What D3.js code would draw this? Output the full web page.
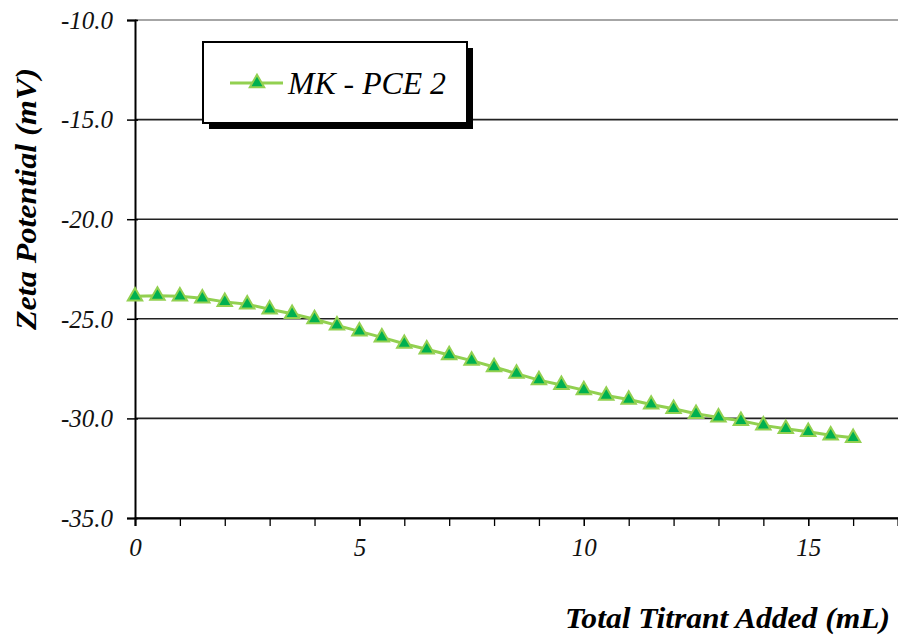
<!DOCTYPE html>
<html>
<head>
<meta charset="utf-8">
<script src="https://cdn.jsdelivr.net/npm/d3@7"></script>
<style>
  body { margin: 0; background: #fff; }
  svg { display: block; }
</style>
</head>
<body>
<div id="chart"></div>
<script>
// data
var titrant = [0, 0.5, 1, 1.5, 2, 2.5, 3, 3.5, 4, 4.5, 5, 5.5, 6, 6.5, 7, 7.5, 8,
  8.5, 9, 9.5, 10, 10.5, 11, 11.5, 12, 12.5, 13, 13.5, 14, 14.5, 15, 15.5, 16];
var zeta = [-23.87, -23.84, -23.87, -23.97, -24.15, -24.27, -24.52, -24.75, -25.02,
  -25.33, -25.63, -25.93, -26.25, -26.53, -26.82, -27.1, -27.42, -27.75, -28.08,
  -28.32, -28.58, -28.85, -29.05, -29.3, -29.52, -29.77, -29.95, -30.12, -30.35,
  -30.52, -30.67, -30.85, -30.97];
var yTicks = [-10, -15, -20, -25, -30, -35];
var xTicks = [0, 5, 10, 15];
var seriesName = "MK - PCE 2";

var fontName = "'Times New Roman'";

//svg frame
var svgWidth = 898;
var svgHeight = 639;
var margin = { top: 20, right: 0, bottom: 121, left: 135 };
var width = svgWidth - margin.left - margin.right;
var height = svgHeight - margin.top - margin.bottom;

var svg = d3.select("#chart")
  .append("svg")
  .attr("width", svgWidth)
  .attr("height", svgHeight);

var chartGroup = svg.append("g")
  .attr("transform", `translate(${margin.left}, ${margin.top})`);

var xScale = d3.scaleLinear().domain([0, 17]).range([0, width]);
var yScale = d3.scaleLinear().domain([-35, -10]).range([height, 0]);

// gridlines
chartGroup.selectAll(".grid")
  .data(yTicks)
  .enter()
  .append("line")
  .attr("x1", 0)
  .attr("x2", width)
  .attr("y1", d => yScale(d))
  .attr("y2", d => yScale(d))
  .attr("stroke", d => d === -10 ? "#888" : "#222")
  .attr("stroke-width", 1.6);

// y axis (ticks cross the axis line a little)
var leftAxis = d3.axisLeft(yScale)
  .tickValues(yTicks)
  .tickSize(8)
  .tickPadding(14)
  .tickFormat(d => d.toFixed(1));
var yAxisG = chartGroup.append("g").call(leftAxis)
  .attr("font-family", null);
yAxisG.select(".domain").attr("stroke", "#000").attr("stroke-width", 2);
yAxisG.selectAll(".tick line")
  .attr("x2", -8).attr("x1", 3)
  .attr("stroke", "#000").attr("stroke-width", 1.5);
yAxisG.selectAll(".tick text")
  .style("font-family", fontName)
  .style("font-size", "25px")
  .style("font-style", "italic")
  .attr("fill", "#111")
  .attr("dy", "0.33em");

// x axis, minor ticks every 1 mL
var bottomMinor = d3.axisBottom(xScale)
  .ticks(17)
  .tickSize(8)
  .tickFormat("");
var xMinor = chartGroup.append("g")
  .attr("transform", `translate(0, ${height})`)
  .call(bottomMinor);
xMinor.select(".domain").attr("stroke", "#000").attr("stroke-width", 2);
xMinor.selectAll(".tick line").attr("stroke", "#000").attr("stroke-width", 1.3);

var bottomAxis = d3.axisBottom(xScale)
  .tickValues(xTicks)
  .tickSize(8)
  .tickPadding(12);
var xAxisG = chartGroup.append("g")
  .attr("transform", `translate(0, ${height})`)
  .call(bottomAxis)
  .attr("font-family", null);
xAxisG.select(".domain").remove();
xAxisG.selectAll(".tick line").attr("stroke", "#000").attr("stroke-width", 1.3);
xAxisG.selectAll(".tick text")
  .style("font-family", fontName)
  .style("font-size", "25px")
  .style("font-style", "italic")
  .attr("fill", "#111");

// line + triangles
var line = d3.line()
  .x((d, i) => xScale(titrant[i]))
  .y(d => yScale(d));

chartGroup.append("path")
  .datum(zeta)
  .attr("d", line)
  .attr("fill", "none")
  .attr("stroke", "#92D050")
  .attr("stroke-width", 3);

var tri = d3.symbol().type(d3.symbolTriangle).size(90);

chartGroup.selectAll(".pt")
  .data(zeta)
  .enter()
  .append("path")
  .attr("class", "pt")
  .attr("d", tri)
  .attr("transform", (d, i) => `translate(${xScale(titrant[i])}, ${yScale(d)})`)
  .attr("fill", "#00B050")
  .attr("stroke", "#92D050")
  .attr("stroke-width", 2);

// axis titles
svg.append("text")
  .attr("transform", "translate(36, 199) rotate(-90)")
  .attr("text-anchor", "middle")
  .attr("textLength", 262)
  .attr("lengthAdjust", "spacingAndGlyphs")
  .style("font-family", fontName)
  .style("font-size", "29px")
  .style("font-weight", "bold")
  .style("font-style", "italic")
  .text("Zeta Potential (mV)");

svg.append("text")
  .attr("x", 565)
  .attr("y", 628)
  .attr("textLength", 325)
  .attr("lengthAdjust", "spacingAndGlyphs")
  .style("font-family", fontName)
  .style("font-size", "29px")
  .style("font-weight", "bold")
  .style("font-style", "italic")
  .text("Total Titrant Added (mL)");

// legend
var legend = svg.append("g").attr("transform", "translate(203, 42)");
legend.append("rect")
  .attr("x", 6).attr("y", 6)
  .attr("width", 264).attr("height", 81)
  .attr("fill", "#000");
legend.append("rect")
  .attr("x", 0).attr("y", 0)
  .attr("width", 264).attr("height", 81)
  .attr("fill", "#fff")
  .attr("stroke", "#000")
  .attr("stroke-width", 2);
legend.append("line")
  .attr("x1", 27).attr("x2", 80)
  .attr("y1", 41).attr("y2", 41)
  .attr("stroke", "#92D050")
  .attr("stroke-width", 3);
legend.append("path")
  .attr("d", tri)
  .attr("transform", "translate(54, 41)")
  .attr("fill", "#00B050")
  .attr("stroke", "#92D050")
  .attr("stroke-width", 2);
legend.append("text")
  .attr("x", 85)
  .attr("y", 52)
  .attr("textLength", 158)
  .attr("lengthAdjust", "spacingAndGlyphs")
  .style("font-family", fontName)
  .style("font-size", "32px")
  .style("font-style", "italic")
  .text(seriesName);
</script>
</body>
</html>
